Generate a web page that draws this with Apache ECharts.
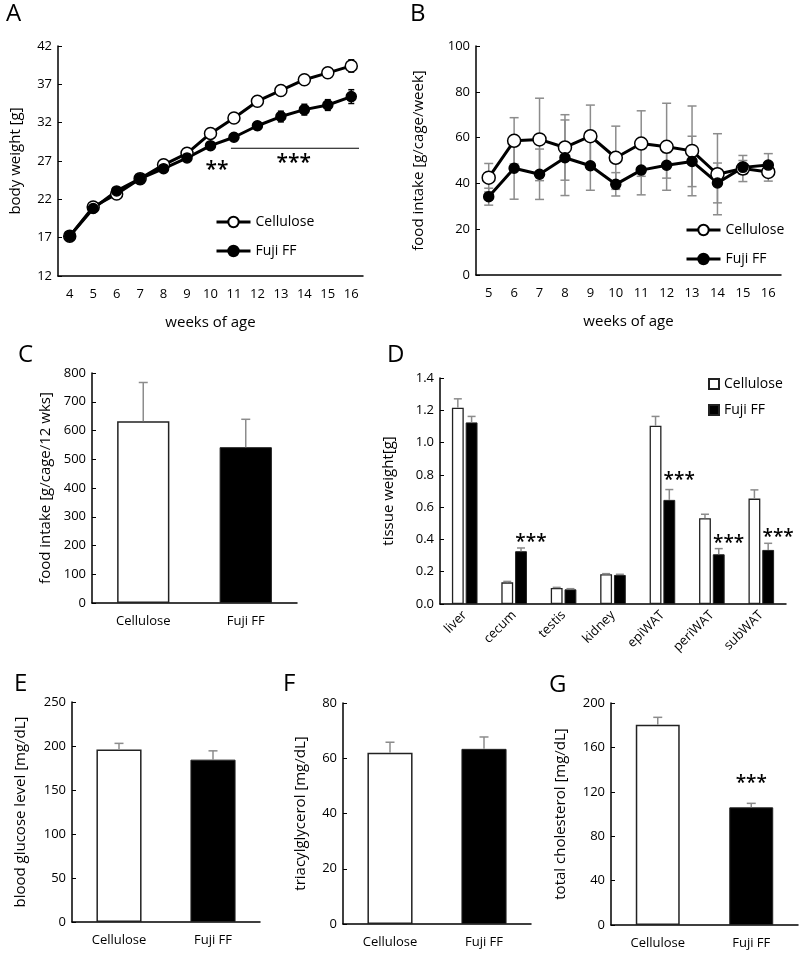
<!DOCTYPE html>
<html>
<head>
<meta charset="utf-8">
<script src="https://cdn.jsdelivr.net/npm/echarts@6/dist/echarts.min.js"></script>
<style>
  html, body { margin: 0; padding: 0; background: #fff; }
  #main { width: 800px; height: 955px; }
</style>
</head>
<body>
<div id="main"></div>
<script>
// ---- data ----
// A: body weight
const weeksA = ['4', '5', '6', '7', '8', '9', '10', '11', '12', '13', '14', '15', '16'];
const celluloseBW = [17.2, 21.0, 22.7, 24.7, 26.5, 28.0, 30.6, 32.6, 34.8, 36.2, 37.6, 38.5, 39.4];
const celluloseBWErr = [0.2, 0.2, 0.2, 0.2, 0.2, 0.3, 0.3, 0.3, 0.3, 0.4, 0.5, 0.6, 0.8];
const fujiBW = [17.2, 20.8, 23.1, 24.7, 26.0, 27.4, 29.0, 30.1, 31.6, 32.8, 33.7, 34.3, 35.4];
const fujiBWErr = [0.2, 0.2, 0.3, 0.3, 0.3, 0.3, 0.4, 0.4, 0.5, 0.7, 0.7, 0.7, 0.9];

// B: weekly food intake
const weeksB = ['5', '6', '7', '8', '9', '10', '11', '12', '13', '14', '15', '16'];
const celluloseFI = [42.5, 58.6, 59.2, 55.7, 60.6, 51.2, 57.4, 56.0, 54.2, 44.0, 46.5, 45.0];
const celluloseFIErr = [6.2, 10.1, 18.0, 14.3, 13.6, 13.8, 14.3, 19.0, 19.6, 17.7, 5.7, 4.0];
const fujiFI = [34.2, 46.6, 44.0, 51.2, 47.7, 39.6, 45.8, 47.9, 49.6, 40.2, 47.0, 48.0];
const fujiFIErr = [3.7, 13.5, 11.0, 16.5, 10.7, 5.1, 10.8, 5.6, 11.0, 8.7, 3.0, 5.0];

// C, E, F, G: two groups
const groups = ['Cellulose', 'Fuji FF'];
const totalIntake = [632, 542];
const totalIntakeErr = [135, 97];
const glucose = [196, 184.5];
const glucoseErr = [7, 10];
const triglyceride = [62.0, 63.4];
const triglycerideErr = [3.8, 4.3];
const cholesterol = [180.5, 106];
const cholesterolErr = [6.6, 3.6];

// D: tissue weights
const tissues = ['liver', 'cecum', 'testis', 'kidney', 'epiWAT', 'periWAT', 'subWAT'];
const celluloseTissue = [1.216, 0.134, 0.099, 0.184, 1.104, 0.531, 0.653];
const celluloseTissueErr = [0.055, 0.006, 0.004, 0.004, 0.058, 0.025, 0.054];
const fujiTissue = [1.125, 0.327, 0.091, 0.180, 0.645, 0.308, 0.335];
const fujiTissueErr = [0.037, 0.020, 0.004, 0.004, 0.064, 0.035, 0.041];
const tissueStars = [1, 4, 5, 6]; // indices of tissues marked ***

// ---- helpers ----
const FONT = '"Open Sans", sans-serif';
const BLACK = '#000';
const GREY = '#8c8c8c';
const stripName = name => name.split(':')[1];

function xAx(gi, data, name, nameGap, extraLabel) {
    return {
        gridIndex: gi, type: 'category', data: data,
        name: name, nameLocation: 'middle', nameGap: nameGap,
        nameTextStyle: { fontSize: 15, color: BLACK, fontFamily: FONT },
        axisLine: { lineStyle: { color: BLACK, width: 1.5 } },
        axisTick: { show: false },
        axisLabel: Object.assign({ color: BLACK, fontSize: 13, fontFamily: FONT, margin: 12, interval: 0 }, extraLabel || {})
    };
}

function yAx(gi, min, max, interval, name, nameGap, formatter) {
    return {
        gridIndex: gi, type: 'value', min: min, max: max, interval: interval,
        name: name, nameLocation: 'middle', nameGap: nameGap,
        nameTextStyle: { fontSize: 15, color: BLACK, fontFamily: FONT },
        axisLine: { show: true, lineStyle: { color: BLACK, width: 1.5 } },
        axisTick: { show: true, inside: true, length: 4, lineStyle: { color: BLACK, width: 1 } },
        splitLine: { show: false },
        axisLabel: { color: BLACK, fontSize: 13, fontFamily: FONT, margin: 6, formatter: formatter }
    };
}

function lineSeries(name, gi, data, filled, size) {
    return {
        name: name, type: 'line', xAxisIndex: gi, yAxisIndex: gi, data: data,
        symbol: 'circle', symbolSize: size, z: 3,
        lineStyle: { color: BLACK, width: 3 },
        itemStyle: { color: filled ? BLACK : '#fff', borderColor: BLACK, borderWidth: 1.5 },
        emphasis: { disabled: true }
    };
}

// error bars drawn through the axes; shift = offset in band widths (grouped bars)
function errSeries(gi, means, errs, color, cap, both, shift) {
    return {
        type: 'custom', xAxisIndex: gi, yAxisIndex: gi, silent: true, z: both ? 2 : 4,
        encode: { x: 0, y: 1 },
        data: means.map((m, i) => [i, m, errs[i]]),
        renderItem: function (params, api) {
            const i = api.value(0), m = api.value(1), e = api.value(2);
            const band = api.size([1, 0])[0];
            const top = api.coord([i, m + e]);
            const bot = api.coord([i, both ? m - e : m]);
            const x = top[0] + (shift || 0) * band;
            const style = { stroke: color, lineWidth: 1.5 };
            const kids = [
                { type: 'line', shape: { x1: x, y1: bot[1], x2: x, y2: top[1] }, style: style },
                { type: 'line', shape: { x1: x - cap / 2, y1: top[1], x2: x + cap / 2, y2: top[1] }, style: style }
            ];
            if (both) {
                kids.push({ type: 'line', shape: { x1: x - cap / 2, y1: bot[1], x2: x + cap / 2, y2: bot[1] }, style: style });
            }
            return { type: 'group', children: kids };
        }
    };
}

// significance stars, placed in data space
function starSeries(gi, points, text, fontSize, shift) {
    return {
        type: 'custom', xAxisIndex: gi, yAxisIndex: gi, silent: true, z: 5,
        encode: { x: 0, y: 1 },
        data: points,
        renderItem: function (params, api) {
            const p = api.coord([api.value(0), api.value(1)]);
            const band = api.size([1, 0])[0];
            return {
                type: 'text',
                x: p[0] + (shift || 0) * band, y: p[1] + fontSize * 0.22,
                style: { text: text, fill: BLACK, font: '600 ' + fontSize + 'px ' + FONT, align: 'center', verticalAlign: 'middle' }
            };
        }
    };
}

function twoBars(gi, values, width) {
    return {
        type: 'bar', xAxisIndex: gi, yAxisIndex: gi, barWidth: width, z: 3,
        data: values.map((v, i) => ({
            value: v,
            itemStyle: i === 0 ? { color: '#fff', borderColor: '#222', borderWidth: 1.5 } : { color: BLACK, borderColor: '#222', borderWidth: 1 }
        })),
        emphasis: { disabled: true }
    };
}

function lineLegend(names, left, top) {
    return {
        data: names, formatter: stripName, selectedMode: false,
        orient: 'vertical', left: left, top: top, padding: 0,
        itemWidth: 34, itemHeight: 13, itemGap: 15,
        lineStyle: { width: 3, color: BLACK },
        textStyle: { fontSize: 14, color: BLACK, fontFamily: FONT }
    };
}

const dom = document.getElementById('main');
const chart = echarts.init(dom, null, { renderer: 'canvas' });

const BAR_D = 0.24, GAP_D = 0.16;
const shiftD = (BAR_D + BAR_D * GAP_D) / 2;

const option = {
    backgroundColor: '#fff',
    animation: false,
    textStyle: { fontFamily: FONT },
    grid: [
        { left: 58, top: 46, width: 305, height: 230 },   // A
        { left: 476, top: 46, width: 305, height: 229 },  // B
        { left: 92, top: 373, width: 205, height: 230 },  // C
        { left: 440, top: 378, width: 346, height: 226 }, // D
        { left: 72, top: 702, width: 188, height: 220 },  // E
        { left: 343, top: 703, width: 188, height: 221 }, // F
        { left: 611, top: 703, width: 187, height: 222 }  // G
    ],
    xAxis: [
        xAx(0, weeksA, 'weeks of age', 39),
        xAx(1, weeksB, 'weeks of age', 39),
        xAx(2, groups, '', 0),
        xAx(3, tissues, '', 0, { rotate: 45, margin: 9 }),
        xAx(4, groups, '', 0),
        xAx(5, groups, '', 0),
        xAx(6, groups, '', 0)
    ],
    yAxis: [
        yAx(0, 12, 42, 5, 'body weight [g]', 35),
        yAx(1, 0, 100, 20, 'food intake [g/cage/week]', 50),
        yAx(2, 0, 800, 100, 'food intake [g/cage/12 wks]', 39),
        yAx(3, 0, 1.4, 0.2, 'tissue weight[g]', 44, v => v.toFixed(1)),
        yAx(4, 0, 250, 50, 'blood glucose level [mg/dL]', 44),
        yAx(5, 0, 80, 20, 'triacylglycerol [mg/dL]', 35),
        yAx(6, 0, 200, 40, 'total cholesterol [mg/dL]', 43)
    ],
    legend: [
        lineLegend(['A:Cellulose', 'A:Fuji FF'], 215, 215),
        lineLegend(['B:Cellulose', 'B:Fuji FF'], 685, 223),
        {
            data: [{ name: 'D:Cellulose', icon: 'rect' }, { name: 'D:Fuji FF', icon: 'rect' }],
            formatter: stripName, selectedMode: false, padding: 0,
            orient: 'vertical', left: 708, top: 377, itemWidth: 10, itemHeight: 10, itemGap: 12,
            textStyle: { fontSize: 14, color: BLACK, fontFamily: FONT }
        }
    ],
    graphic: [
        ['A', 6, 14], ['B', 410, 14], ['C', 18, 355], ['D', 387, 355],
        ['E', 14, 684], ['F', 283, 684], ['G', 549, 685]
    ].map(p => ({
        type: 'text', x: p[1], y: p[2],
        style: { text: p[0], font: '24px ' + FONT, fill: BLACK, verticalAlign: 'middle' }
    })),
    series: [
        // A
        errSeries(0, celluloseBW, celluloseBWErr, BLACK, 6, true),
        errSeries(0, fujiBW, fujiBWErr, BLACK, 6, true),
        lineSeries('A:Cellulose', 0, celluloseBW, false, 12),
        lineSeries('A:Fuji FF', 0, fujiBW, true, 10),
        {
            type: 'custom', xAxisIndex: 0, yAxisIndex: 0, silent: true, z: 5,
            encode: { x: 0, y: 1 },
            data: [[7, 28.66, 12]],
            renderItem: function (params, api) {
                const band = api.size([1, 0])[0];
                const a = api.coord([api.value(0), api.value(1)]);
                const b = api.coord([api.value(2), api.value(1)]);
                return {
                    type: 'line',
                    shape: { x1: a[0] - 0.13 * band, y1: a[1], x2: b[0] + 0.33 * band, y2: a[1] },
                    style: { stroke: BLACK, lineWidth: 1.2 }
                };
            }
        },
        starSeries(0, [[6, 26.48]], '**', 21, 0.28),
        starSeries(0, [[9, 27.39]], '***', 21, 0.55),
        // B
        errSeries(1, celluloseFI, celluloseFIErr, GREY, 9, true),
        errSeries(1, fujiFI, fujiFIErr, GREY, 9, true),
        lineSeries('B:Cellulose', 1, celluloseFI, false, 13),
        lineSeries('B:Fuji FF', 1, fujiFI, true, 10),
        // C
        twoBars(2, totalIntake, '51%'),
        errSeries(2, totalIntake, totalIntakeErr, GREY, 9, false),
        // D
        {
            name: 'D:Cellulose', type: 'bar', xAxisIndex: 3, yAxisIndex: 3, data: celluloseTissue,
            barWidth: (BAR_D * 100) + '%', barGap: (GAP_D * 100) + '%', z: 3,
            itemStyle: { color: '#fff', borderColor: '#222', borderWidth: 1.3 },
            emphasis: { disabled: true }
        },
        {
            name: 'D:Fuji FF', type: 'bar', xAxisIndex: 3, yAxisIndex: 3, data: fujiTissue,
            barWidth: (BAR_D * 100) + '%', barGap: (GAP_D * 100) + '%', z: 3,
            itemStyle: { color: BLACK, borderColor: '#222', borderWidth: 1 },
            emphasis: { disabled: true }
        },
        errSeries(3, celluloseTissue, celluloseTissueErr, GREY, 8, false, -shiftD),
        errSeries(3, fujiTissue, fujiTissueErr, GREY, 8, false, shiftD),
        starSeries(3, tissueStars.map(i => [i, fujiTissue[i] + fujiTissueErr[i] + (i === 4 ? 0.08 : 0.06)]), '***', 19, 0.34),
        // E
        twoBars(4, glucose, '48%'),
        errSeries(4, glucose, glucoseErr, GREY, 9, false),
        // F
        twoBars(5, triglyceride, '48%'),
        errSeries(5, triglyceride, triglycerideErr, GREY, 9, false),
        // G
        twoBars(6, cholesterol, '47%'),
        errSeries(6, cholesterol, cholesterolErr, GREY, 9, false),
        starSeries(6, [[1, 131.5]], '***', 19, 0)
    ]
};

chart.setOption(option);
window.addEventListener('resize', function () { chart.resize(); });
</script>
</body>
</html>
